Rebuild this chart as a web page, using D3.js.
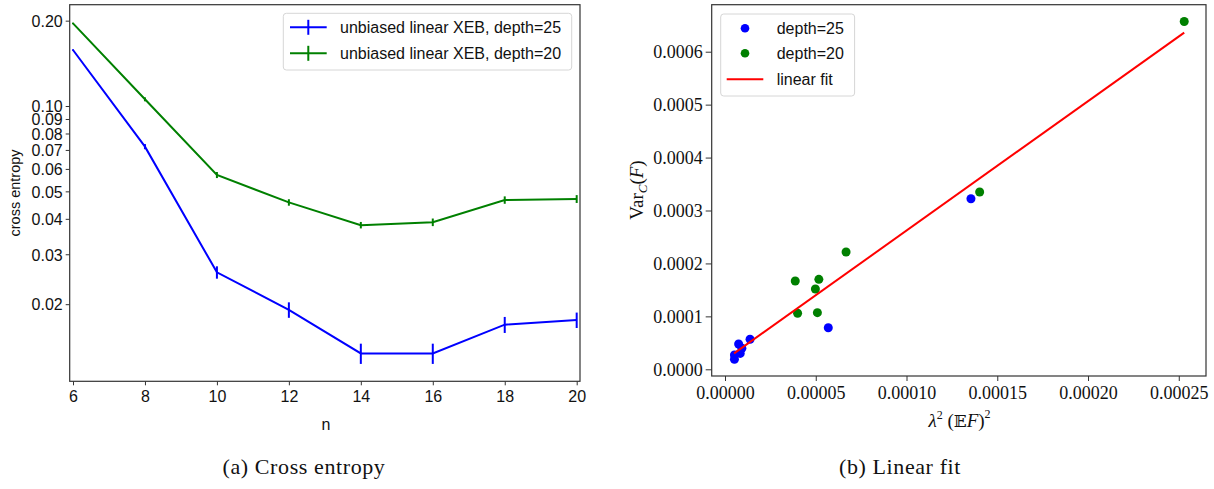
<!DOCTYPE html>
<html><head><meta charset="utf-8">
<script src="https://cdn.jsdelivr.net/npm/d3@7/dist/d3.min.js"></script>
<style>
html,body{margin:0;padding:0;background:#fff;}
svg{display:block;}
</style>
</head><body>
<svg id="chart" width="1214" height="489"></svg>
<script>
// ---------- data (left panel) ----------
const nValues = [6, 8, 10, 12, 14, 16, 18, 20];
const xeb25 = [0.1576, 0.0719, 0.0259, 0.0191, 0.01341, 0.01341, 0.01693, 0.01758];
const xeb25Err = [0.0010, 0.0015, 0.0013, 0.0012, 0.0011, 0.0011, 0.0011, 0.0011];
const xeb20 = [0.1957, 0.1056, 0.0571, 0.0457, 0.0380, 0.0389, 0.0466, 0.0470];
const xeb20Err = [0.0012, 0.0017, 0.0014, 0.0012, 0.0010, 0.0012, 0.0014, 0.0015];
const leftYTicks = [0.2, 0.1, 0.09, 0.08, 0.07, 0.06, 0.05, 0.04, 0.03, 0.02];
const leftYTickLabels = ["0.20", "0.10", "0.09", "0.08", "0.07", "0.06", "0.05", "0.04", "0.03", "0.02"];
const leftXTicks = [6, 8, 10, 12, 14, 16, 18, 20];
const leftSeriesNames = ["unbiased linear XEB, depth=25", "unbiased linear XEB, depth=20"];

// ---------- data (right panel) ----------
const depth25X = [1.355e-4, 5.69e-5, 1.38e-5, 7.5e-6, 9.3e-6, 8.4e-6, 5.2e-6, 5.2e-6];
const depth25Y = [3.223e-4, 7.86e-5, 5.67e-5, 4.78e-5, 3.97e-5, 3.0e-5, 2.7e-5, 1.9e-5];
const depth20X = [2.53e-4, 1.403e-4, 6.67e-5, 5.17e-5, 3.87e-5, 4.98e-5, 4.0e-5, 5.09e-5];
const depth20Y = [6.57e-4, 3.35e-4, 2.216e-4, 1.70e-4, 1.668e-4, 1.517e-4, 1.058e-4, 1.07e-4];
const fitX = [5.0e-6, 2.53e-4];
const fitY = [3.0e-5, 6.36e-4];
const rightXTicks = [0, 5e-5, 1e-4, 1.5e-4, 2e-4, 2.5e-4];
const rightXTickLabels = ["0.00000", "0.00005", "0.00010", "0.00015", "0.00020", "0.00025"];
const rightYTicks = [0, 1e-4, 2e-4, 3e-4, 4e-4, 5e-4, 6e-4];
const rightYTickLabels = ["0.0000", "0.0001", "0.0002", "0.0003", "0.0004", "0.0005", "0.0006"];
const rightSeriesNames = ["depth=25", "depth=20", "linear fit"];

// ---------- styling ----------
const BLUE = "#0000ff", GREEN = "#008000", RED = "#ff0000";
const SANS = "'Liberation Sans', Arial, sans-serif";
const SERIF = "'Liberation Serif', 'Times New Roman', serif";
const svg = d3.select("#chart");

// ================= LEFT PANEL =================
const L = {x0: 69.7, x1: 580, y0: 4.7, y1: 381.3};
const xL = d3.scaleLinear().domain([5.908, 20.092]).range([L.x0, L.x1]);
const yL = d3.scaleLog().domain([0.01069, 0.2277]).range([L.y1, L.y0]);

const gL = svg.append("g");
// axes
const axL = gL.append("g").attr("transform", `translate(0,${L.y1})`)
  .call(d3.axisBottom(xL).tickValues(leftXTicks).tickFormat(d3.format("d")).tickSize(4).tickPadding(5));
const ayL = gL.append("g").attr("transform", `translate(${L.x0},0)`)
  .call(d3.axisLeft(yL).tickValues(leftYTicks).tickFormat((d, i) => leftYTickLabels[i]).tickSize(4).tickPadding(3));
[axL, ayL].forEach(a => {
  a.select(".domain").remove();
  a.selectAll(".tick line").attr("stroke", "#333").attr("stroke-width", 1);
  a.selectAll(".tick text").attr("font-family", SANS).attr("font-size", 16).attr("fill", "#111");
});
ayL.selectAll(".tick text").attr("dy", "0.36em");

// series
const lineL = d3.line().x((d, i) => xL(nValues[i])).y(d => yL(d));
function drawSeries(vals, errs, color) {
  gL.append("path").datum(vals).attr("d", lineL).attr("fill", "none")
    .attr("stroke", color).attr("stroke-width", 2);
  gL.append("g").selectAll("line").data(vals).join("line")
    .attr("x1", (d, i) => xL(nValues[i])).attr("x2", (d, i) => xL(nValues[i]))
    .attr("y1", (d, i) => yL(d - errs[i])).attr("y2", (d, i) => yL(d + errs[i]))
    .attr("stroke", color).attr("stroke-width", 2);
}
drawSeries(xeb20, xeb20Err, GREEN);
drawSeries(xeb25, xeb25Err, BLUE);

// frame
gL.append("rect").attr("x", L.x0).attr("y", L.y0).attr("width", L.x1 - L.x0).attr("height", L.y1 - L.y0)
  .attr("fill", "none").attr("stroke", "#333").attr("stroke-width", 1.2);

// legend
const legL = gL.append("g");
legL.append("rect").attr("x", 283.3).attr("y", 13.3).attr("width", 288.4).attr("height", 56.7)
  .attr("rx", 3).attr("fill", "#fff").attr("fill-opacity", 0.8).attr("stroke", "#d6d6d6");
[BLUE, GREEN].forEach((c, i) => {
  const yy = 27.3 + i * 26;
  legL.append("line").attr("x1", 290).attr("x2", 326.7).attr("y1", yy).attr("y2", yy).attr("stroke", c).attr("stroke-width", 2);
  legL.append("line").attr("x1", 308.3).attr("x2", 308.3).attr("y1", yy - 7.5).attr("y2", yy + 7.5).attr("stroke", c).attr("stroke-width", 2);
  legL.append("text").attr("x", 340).attr("y", yy).attr("dy", "0.36em").attr("font-family", SANS)
    .attr("font-size", 16).attr("fill", "#111").text(leftSeriesNames[i]);
});

// labels
gL.append("text").attr("transform", "translate(15,193) rotate(-90)").attr("text-anchor", "middle")
  .attr("dy", "0.36em").attr("font-family", SANS).attr("font-size", 14.5).attr("fill", "#111").text("cross entropy");
gL.append("text").attr("x", 326).attr("y", 424).attr("dy", "0.36em").attr("text-anchor", "middle")
  .attr("font-family", SANS).attr("font-size", 16).attr("fill", "#111").text("n");
gL.append("text").attr("x", 304).attr("y", 466).attr("dy", "0.36em").attr("text-anchor", "middle")
  .attr("font-family", SERIF).attr("font-size", 22).attr("letter-spacing", 0.6).attr("fill", "#111").text("(a) Cross entropy");

// ================= RIGHT PANEL =================
const R = {x0: 711.7, x1: 1206, y0: 4.7, y1: 376};
const xR = d3.scaleLinear().domain([-7.33e-6, 2.650e-4]).range([R.x0, R.x1]);
const yR = d3.scaleLinear().domain([-1.266e-5, 6.888e-4]).range([R.y1, R.y0]);
const gR = svg.append("g");

const axR = gR.append("g").attr("transform", `translate(0,${R.y1})`)
  .call(d3.axisBottom(xR).tickValues(rightXTicks).tickFormat((d, i) => rightXTickLabels[i]).tickSize(5).tickPadding(5));
const ayR = gR.append("g").attr("transform", `translate(${R.x0},0)`)
  .call(d3.axisLeft(yR).tickValues(rightYTicks).tickFormat((d, i) => rightYTickLabels[i]).tickSize(6).tickPadding(3));
[axR, ayR].forEach(a => {
  a.select(".domain").remove();
  a.selectAll(".tick line").attr("stroke", "#333").attr("stroke-width", 1);
  a.selectAll(".tick text").attr("font-family", SERIF).attr("font-size", 18).attr("fill", "#111");
});
ayR.selectAll(".tick text").attr("dy", "0.34em");

// scatter
gR.append("g").selectAll("circle").data(depth25X).join("circle")
  .attr("cx", d => xR(d)).attr("cy", (d, i) => yR(depth25Y[i])).attr("r", 4.5).attr("fill", BLUE);
gR.append("g").selectAll("circle").data(depth20X).join("circle")
  .attr("cx", d => xR(d)).attr("cy", (d, i) => yR(depth20Y[i])).attr("r", 4.5).attr("fill", GREEN);
// fit
gR.append("path").datum(fitX).attr("d", d3.line().x(d => xR(d)).y((d, i) => yR(fitY[i])))
  .attr("fill", "none").attr("stroke", RED).attr("stroke-width", 2);

gR.append("rect").attr("x", R.x0).attr("y", R.y0).attr("width", R.x1 - R.x0).attr("height", R.y1 - R.y0)
  .attr("fill", "none").attr("stroke", "#333").attr("stroke-width", 1.2);

// legend
const legR = gR.append("g");
legR.append("rect").attr("x", 720.7).attr("y", 14).attr("width", 133.9).attr("height", 82)
  .attr("rx", 3).attr("fill", "#fff").attr("fill-opacity", 0.8).attr("stroke", "#d6d6d6");
[BLUE, GREEN].forEach((c, i) => {
  const yy = 28.3 + i * 25;
  legR.append("circle").attr("cx", 745).attr("cy", yy).attr("r", 4.3).attr("fill", c);
  legR.append("text").attr("x", 776.7).attr("y", yy).attr("dy", "0.36em").attr("font-family", SANS)
    .attr("font-size", 16).attr("fill", "#111").text(rightSeriesNames[i]);
});
legR.append("line").attr("x1", 726.7).attr("x2", 763.3).attr("y1", 79.3).attr("y2", 79.3).attr("stroke", RED).attr("stroke-width", 2);
legR.append("text").attr("x", 776.7).attr("y", 79.3).attr("dy", "0.36em").attr("font-family", SANS)
  .attr("font-size", 16).attr("fill", "#111").text(rightSeriesNames[2]);

// axis labels
const yLab = gR.append("text").attr("transform", "translate(636,190) rotate(-90)").attr("text-anchor", "middle")
  .attr("dy", "0.36em").attr("font-family", SERIF).attr("font-size", 19).attr("fill", "#111");
yLab.append("tspan").text("Var");
yLab.append("tspan").attr("font-style", "italic").attr("font-size", 13).attr("dy", 4).text("C");
yLab.append("tspan").attr("dy", -4).text("(");
yLab.append("tspan").attr("font-style", "italic").text("F");
yLab.append("tspan").text(")");

const xLab = gR.append("text").attr("x", 959.5).attr("y", 420).attr("dy", "0.36em").attr("text-anchor", "middle")
  .attr("font-family", SERIF).attr("font-size", 19).attr("fill", "#111");
xLab.append("tspan").attr("font-style", "italic").text("λ");
xLab.append("tspan").attr("font-size", 12).attr("dy", -8).text("2");
xLab.append("tspan").attr("dy", 8).text(" (");
xLab.append("tspan").attr("font-family", "'DejaVu Serif', 'DejaVu Sans', serif").attr("font-size", 17).text("𝔼");
xLab.append("tspan").attr("font-style", "italic").text("F");
xLab.append("tspan").text(")");
xLab.append("tspan").attr("font-size", 12).attr("dy", -9).text("2");

gR.append("text").attr("x", 900).attr("y", 466).attr("dy", "0.36em").attr("text-anchor", "middle")
  .attr("font-family", SERIF).attr("font-size", 22).attr("letter-spacing", 0.6).attr("fill", "#111").text("(b) Linear fit");
</script>
</body></html>
